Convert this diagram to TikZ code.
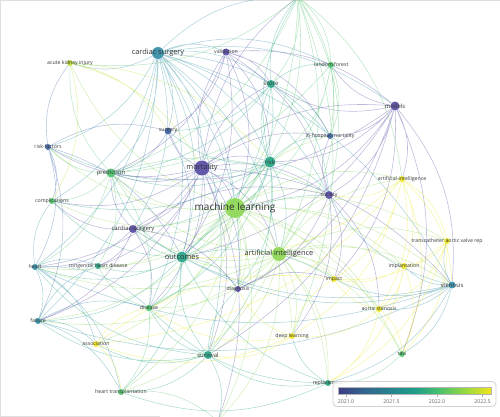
\documentclass[tikz,border=0pt]{standalone}
\usepackage{fontspec}
\setmainfont{Open Sans}
\usetikzlibrary{backgrounds}

\definecolor{cPur}{HTML}{5247A2}
\definecolor{cBlu}{HTML}{3B64A5}
\definecolor{cTea}{HTML}{2E8CA5}
\definecolor{cTgr}{HTML}{22A384}
\definecolor{cGrn}{HTML}{4EC36B}
\definecolor{cLgr}{HTML}{8BD650}
\definecolor{cLim}{HTML}{B8DE29}
\definecolor{cYel}{HTML}{EDE51B}
\definecolor{vir0}{HTML}{3E3B86}
\definecolor{vir1}{HTML}{33638D}
\definecolor{vir2}{HTML}{26828E}
\definecolor{vir3}{HTML}{1F9E89}
\definecolor{vir4}{HTML}{48C16E}
\definecolor{vir5}{HTML}{9BD93C}
\definecolor{vir6}{HTML}{F1E51D}
\pgfdeclarehorizontalshading{viridis}{100bp}{color(0bp)=(vir0); color(25bp)=(vir0);
  color(33bp)=(vir1); color(42bp)=(vir2); color(50bp)=(vir3); color(58bp)=(vir4);
  color(67bp)=(vir5); color(75bp)=(vir6); color(100bp)=(vir6)}

\begin{document}
\begin{tikzpicture}[
    x=1pt, y=-1pt,
    dot/.style={circle, fill=#1, fill opacity=0.9, inner sep=0pt, minimum size=6pt},
    labs/.style={font=\fontsize{5.2}{6}\selectfont, text=black!78, inner sep=0pt},
    labm/.style={font=\fontsize{6}{7}\selectfont, text=black!78, inner sep=0pt},
    labl/.style={font=\fontsize{7.4}{8}\selectfont, text=black!80, inner sep=0pt},
    labxl/.style={font=\fontsize{10}{11}\selectfont, text=black!82, inner sep=0pt},
    link/.style={draw=#1, draw opacity=0.38, line width=0.55pt, bend left=22},
    tick/.style={font=\fontsize{5.2}{6}\selectfont, text=black!60, inner sep=0pt}
  ]
  \useasboundingbox (0,0) rectangle (500,417);

  % keywords
  \node[dot=cTea, minimum size=12pt, label={[labl]center:cardiac surgery}] (csurg) at (158,53) {};
  \node[dot=cPur, minimum size=7pt, label={[labs]center:validation}] (valid) at (226,52) {};
  \node[dot=cLim, label={[labs]center:acute kidney injury}] (aki) at (70,63) {};
  \node[dot=cGrn, label={[labs]center:random forest}] (rforest) at (331,65) {};
  \node[dot=cTgr, minimum size=8pt, label={[labm]center:score}] (score) at (271,84) {};
  \node[dot=cPur, minimum size=9pt, label={[labm]center:models}] (models) at (395,106) {};
  \node[dot=cBlu, label={[labs]center:in-hospital mortality}] (ihm) at (330,136) {};
  \node[dot=cBlu, minimum size=7pt, label={[labs]center:surgery}] (surg) at (168,131) {};
  \node[dot=cBlu, label={[labs]center:risk-factors}] (rfact) at (48,147) {};
  \node[dot=cPur, minimum size=15pt, label={[labl]center:mortality}] (mort) at (202,168) {};
  \node[dot=cTgr, minimum size=11pt, label={[labm]center:risk}] (risk) at (270,162) {};
  \node[dot=cGrn, minimum size=9pt, label={[labm]center:prediction}] (pred) at (111,173) {};
  \node[dot=cYel, label={[labs]center:artificial-intelligence}] (aihyph) at (402,179) {};
  \node[dot=cPur, minimum size=8pt, label={[labs]center:society}] (soc) at (329,195) {};
  \node[dot=cGrn, label={[labs]center:complications}] (compl) at (52,201) {};
  \node[dot=cLgr, minimum size=20pt, label={[labxl]center:machine learning}] (ml) at (235,208) {};
  \node[dot=cPur, minimum size=8pt, label={[labm]center:cardiac-surgery}] (csurgh) at (133,229) {};
  \node[dot=cTgr, minimum size=11pt, label={[labl]center:outcomes}] (outc) at (182,257) {};
  \node[dot=cLgr, minimum size=14pt, label={[labl]center:artificial intelligence}] (ai) at (279,254) {};
  \node[dot=cYel, label={[labs]center:transcatheter aortic valve rep}] (tavr) at (447,241) {};
  \node[dot=cTea, label={[labs]center:heart}] (heart) at (35,267) {};
  \node[dot=cTgr, label={[labs]center:congenital heart disease}] (chd) at (98,266) {};
  \node[dot=cPur, label={[labs]center:diagnosis}] (diag) at (238,289) {};
  \node[dot=cYel, label={[labs]center:impact}] (impact) at (334,279) {};
  \node[dot=cYel, label={[labs]center:implantation}] (impl) at (404,266) {};
  \node[dot=cTea, minimum size=7pt, label={[labm]center:stenosis}] (sten) at (452,285) {};
  \node[dot=cGrn, minimum size=6.5pt, label={[labs]center:disease}] (dis) at (149,308) {};
  \node[dot=cTea, label={[labs]center:failure}] (fail) at (38,321) {};
  \node[dot=cYel, label={[labs]center:aortic stenosis}] (astn) at (379,309) {};
  \node[dot=cYel, label={[labs]center:association}] (assoc) at (96,344) {};
  \node[dot=cTgr, minimum size=8pt, label={[labm]center:survival}] (surv) at (208,355) {};
  \node[dot=cYel, label={[labs]center:deep learning}] (dl) at (292,336) {};
  \node[dot=cGrn, label={[labs]center:tavi}] (tavi) at (402,354) {};
  \node[dot=cGrn, label={[labs]center:heart transplantation}] (htx) at (121,392) {};
  \node[dot=cTgr, label={[labs]center:replacement}] (repl) at (328,383) {};
  \node[dot=cGrn, minimum size=7pt] (top) at (298,-3) {};
  \node[dot=cTgr, minimum size=7pt] (bottom) at (218,421) {};

  % links
  \begin{scope}[on background layer]
    \draw[gray!25, line width=0.8pt] (500,0.5) -- (0.5,0.5) -- (0.5,416.5) -- (160,416.5);
    \draw[link=cTea] (csurg) to (valid) (csurg) to (aki) (csurg) to (surg) (csurg) to (mort)
      (csurg) to (risk) (csurg) to (score) (csurg) to (models) (csurg) to (ml)
      (csurg) to (outc) (csurg) to (pred) (csurg) to (rfact) (csurg) to (compl)
      (csurg) to (csurgh) (csurg) to (heart) (csurg) to (fail) (csurg) to (ai)
      (csurg) to (soc) (csurg) to (surv) (csurg) to (dis) (csurg) to (ihm)
      (csurg) to (top) (csurg) to (sten) (csurg) to (rforest) (csurg) to (diag);
    \draw[link=cPur] (mort) to (valid) (mort) to (models) (mort) to (risk) (mort) to (score)
      (mort) to (surg) (mort) to (pred) (mort) to (rfact) (mort) to (soc) (mort) to (ml)
      (mort) to (outc) (mort) to (ai) (mort) to (csurgh) (mort) to (diag) (mort) to (surv)
      (mort) to (dis) (mort) to (ihm) (mort) to (compl) (mort) to (heart) (mort) to (fail)
      (mort) to (chd) (mort) to (sten) (mort) to (top) (mort) to (bottom);
    \draw[link=cPur] (valid) to (models) (valid) to (score) (valid) to (risk) (valid) to (ml)
      (valid) to (soc) (valid) to (surg) (valid) to (ihm) (valid) to (outc) (valid) to (pred);
    \draw[link=cPur] (models) to (score) (models) to (risk) (models) to (ml) (models) to (soc)
      (models) to (ihm) (models) to (aihyph) (models) to (sten) (models) to (tavi)
      (models) to (rforest) (models) to (outc) (models) to (diag) (models) to (pred)
      (models) to (impact) (models) to (surv);
    \draw[link=cTgr] (risk) to (score) (risk) to (ml) (risk) to (pred) (risk) to (soc)
      (risk) to (outc) (risk) to (ai) (risk) to (ihm) (risk) to (csurgh) (risk) to (surg)
      (risk) to (surv) (risk) to (diag) (risk) to (top) (risk) to (rfact) (risk) to (compl)
      (risk) to (dis);
    \draw[link=cTgr] (score) to (ml) (score) to (ihm) (score) to (rforest) (score) to (pred)
      (score) to (surg) (score) to (outc) (score) to (soc) (score) to (top);
    \draw[link=cGrn] (top) to (rforest) (top) to (score) (top) to (ml) (top) to (pred)
      (top) to (ai) (top) to (soc) (top) to (ihm) (top) to (aki) (top) to (aihyph)
      (top) to (dl) (top) to (outc);
    \draw[link=cGrn] (rforest) to (ml) (rforest) to (pred) (rforest) to (ihm)
      (rforest) to (ai) (rforest) to (risk);
    \draw[link=cLgr] (ml) to (pred) (ml) to (outc) (ml) to (ai) (ml) to (soc) (ml) to (csurgh)
      (ml) to (dis) (ml) to (surv) (ml) to (diag) (ml) to (impact) (ml) to (dl)
      (ml) to (compl) (ml) to (heart) (ml) to (fail) (ml) to (chd) (ml) to (assoc)
      (ml) to (htx) (ml) to (repl) (ml) to (astn) (ml) to (impl) (ml) to (sten)
      (ml) to (tavi) (ml) to (tavr) (ml) to (aihyph) (ml) to (ihm) (ml) to (aki)
      (ml) to (rfact) (ml) to (bottom);
    \draw[link=cLgr] (ai) to (outc) (ai) to (soc) (ai) to (impact) (ai) to (dl) (ai) to (diag)
      (ai) to (surv) (ai) to (dis) (ai) to (astn) (ai) to (impl) (ai) to (sten)
      (ai) to (tavi) (ai) to (tavr) (ai) to (repl) (ai) to (aihyph) (ai) to (csurgh)
      (ai) to (pred) (ai) to (heart) (ai) to (fail) (ai) to (htx) (ai) to (bottom);
    \draw[link=cYel] (aihyph) to (tavr) (aihyph) to (impl) (aihyph) to (impact)
      (aihyph) to (astn) (aihyph) to (dl) (aihyph) to (soc) (aihyph) to (outc)
      (aihyph) to (sten) (aihyph) to (tavi) (aihyph) to (assoc);
    \draw[link=cTea] (sten) to (tavr) (sten) to (impl) (sten) to (astn) (sten) to (tavi)
      (sten) to (impact) (sten) to (repl) (sten) to (heart) (sten) to (fail)
      (sten) to (outc) (sten) to (csurgh) (sten) to (soc);
    \draw[link=cYel] (tavr) to (impl) (tavr) to (astn) (tavr) to (tavi) (tavr) to (impact)
      (tavr) to (repl) (impl) to (astn) (impl) to (tavi) (impl) to (impact) (impl) to (repl)
      (astn) to (tavi) (astn) to (repl) (astn) to (dl) (astn) to (impact);
    \draw[link=cGrn] (tavi) to (repl);
    \draw[link=cTgr] (repl) to (surv) (repl) to (outc) (repl) to (dl) (repl) to (dis)
      (repl) to (htx);
    \draw[link=cYel] (dl) to (surv) (dl) to (diag) (dl) to (dis) (dl) to (impact) (dl) to (assoc);
    \draw[link=cTgr] (surv) to (outc) (surv) to (dis) (surv) to (htx) (surv) to (fail)
      (surv) to (heart) (surv) to (bottom) (surv) to (assoc) (surv) to (diag);
    \draw[link=cTgr] (outc) to (pred) (outc) to (csurgh) (outc) to (dis) (outc) to (diag)
      (outc) to (chd) (outc) to (heart) (outc) to (fail) (outc) to (compl) (outc) to (soc)
      (outc) to (impact) (outc) to (htx);
    \draw[link=cPur] (csurgh) to (pred) (csurgh) to (chd) (csurgh) to (heart)
      (csurgh) to (compl) (csurgh) to (dis) (csurgh) to (soc) (csurgh) to (diag)
      (csurgh) to (fail);
    \draw[link=cGrn] (pred) to (rfact) (pred) to (compl) (pred) to (heart) (pred) to (chd)
      (pred) to (dis) (pred) to (soc) (pred) to (aki);
    \draw[link=cBlu] (rfact) to (aki) (rfact) to (compl) (rfact) to (heart) (rfact) to (fail)
      (rfact) to (surg) (rfact) to (outc);
    \draw[link=cLim] (aki) to (compl) (aki) to (risk) (aki) to (mort) (aki) to (surg);
    \draw[link=cTea] (heart) to (fail) (heart) to (chd) (heart) to (dis) (heart) to (assoc)
      (heart) to (compl) (heart) to (htx) (fail) to (assoc) (fail) to (dis) (fail) to (htx)
      (fail) to (chd);
    \draw[link=cYel] (assoc) to (dis) (assoc) to (htx) (assoc) to (impact);
    \draw[link=cGrn] (dis) to (diag) (dis) to (htx) (dis) to (chd) (htx) to (bottom);
    \draw[link=cPur] (soc) to (diag) (soc) to (impact) (soc) to (ihm) (soc) to (dl)
      (soc) to (astn) (diag) to (impact);
    \draw[link=cBlu] (surg) to (pred) (surg) to (outc);
  \end{scope}

  % legend
  \node[draw=gray!35, line width=0.8pt, rounded corners=4pt, fill=white, fill opacity=0.8,
        minimum width=163pt, minimum height=25pt] (legend) at (414.5,394) {};
  \node[shading=viridis, draw=gray!60, line width=0.4pt, inner sep=0pt,
        minimum width=153pt, minimum height=7pt] (bar) at (414.5,390.5) {};
  \node[tick] (t0) at (346,401.5) {2021.0};
  \node[tick] (t1) at (391.5,401.5) {2021.5};
  \node[tick] (t2) at (437,401.5) {2022.0};
  \node[tick] (t3) at (482.5,401.5) {2022.5};
  \draw[gray!60, line width=0.4pt] (bar.south -| t0) -- ++(0,2.5) (bar.south -| t1) -- ++(0,2.5)
    (bar.south -| t2) -- ++(0,2.5) (bar.south -| t3) -- ++(0,2.5);
\end{tikzpicture}
\end{document}
